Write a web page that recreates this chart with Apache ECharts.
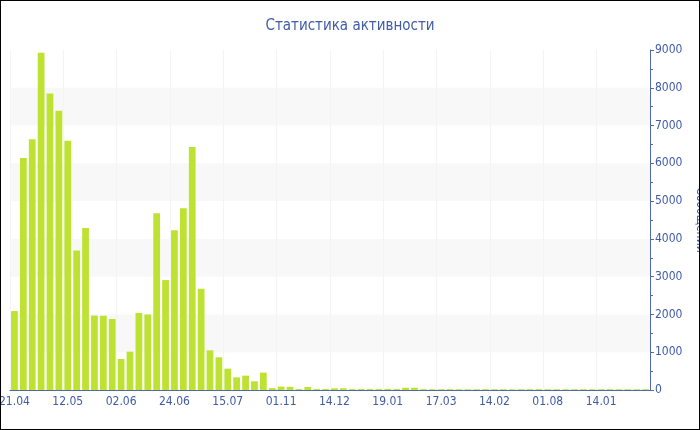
<!DOCTYPE html>
<html>
<head>
<meta charset="utf-8">
<script src="https://cdn.jsdelivr.net/npm/echarts@6/dist/echarts.min.js"></script>
<style>
html,body{margin:0;padding:0;background:#fff;}
#c{width:700px;height:430px;box-sizing:border-box;border:1px solid #000;}
</style>
</head>
<body>
<div id="c"></div>
<script>
const titleText = 'Статистика активности';
const yAxisName = 'Сообщений';
const categories = [
  '21.04','24.04','28.04','01.05','05.05','08.05',
  '12.05','15.05','19.05','22.05','26.05','29.05',
  '02.06','05.06','09.06','13.06','17.06','20.06',
  '24.06','27.06','01.07','04.07','08.07','11.07',
  '15.07','18.07','25.07','08.08','29.08','03.10',
  '01.11','08.11','15.11','22.11','29.11','06.12',
  '14.12','21.12','28.12','04.01','09.01','14.01',
  '19.01','26.01','02.02','16.02','03.03','10.03',
  '17.03','24.03','07.04','21.04','19.05','16.06',
  '14.02','14.03','18.04','12.05','09.06','07.07',
  '01.08','29.08','26.09','24.10','21.11','19.12',
  '14.01','11.02','11.03','08.04','06.05','03.06'
];
const messages = [
  2090, 6140, 6640, 8930, 7850, 7390,
  6600, 3690, 4290, 1970, 1965, 1880,
  820, 1015, 2040, 2000, 4680, 2910,
  4230, 4810, 6430, 2680, 1050, 865,
  565, 335, 380, 230, 460, 50,
  90, 85, 25, 80, 25, 25,
  45, 45, 25, 25, 25, 25,
  30, 25, 60, 60, 22, 20,
  20, 22, 20, 18, 20, 22,
  20, 20, 18, 20, 20, 22,
  20, 20, 18, 20, 20, 20,
  20, 22, 20, 20, 18, 20
];
const yTicks = { min: 0, max: 9000, interval: 1000 };

const blue = '#3f5ba9';
const axisBlue = '#5068ac';
const font = 'DejaVu Sans Condensed, DejaVu Sans';
const chart = echarts.init(document.getElementById('c'));
chart.setOption({
  animation: false,
  backgroundColor: '#fff',
  title: {
    text: titleText,
    left: 'center',
    top: 13,
    textStyle: { color: blue, fontSize: 15, fontWeight: 'normal', fontFamily: font }
  },
  grid: { left: 9, right: 49, top: 49, bottom: 39, containLabel: false, outerBoundsMode: 'none' },
  xAxis: {
    type: 'category',
    data: categories,
    axisLine: { lineStyle: { color: axisBlue, width: 1 } },
    axisTick: { alignWithLabel: true, interval: 5, length: 4, lineStyle: { color: '#888' } },
    axisLabel: { interval: 5, color: blue, fontSize: 12, margin: 6, fontFamily: font },
    splitLine: { show: true, interval: 5, lineStyle: { color: '#f4f4f4' } }
  },
  yAxis: {
    type: 'value',
    position: 'right',
    min: yTicks.min, max: yTicks.max, interval: yTicks.interval,
    name: yAxisName,
    nameLocation: 'middle',
    nameRotate: -90,
    nameGap: 44,
    nameMoveOverlap: false,
    nameTextStyle: { color: blue, fontSize: 12, fontFamily: font },
    axisLine: { show: true, lineStyle: { color: axisBlue } },
    axisTick: { show: true, length: 4, lineStyle: { color: axisBlue } },
    minorTick: { show: true, splitNumber: 2, length: 3, lineStyle: { color: axisBlue } },
    axisLabel: { color: blue, fontSize: 12, margin: 5, fontFamily: font, formatter: function (v) { return String(v); } },
    splitLine: { show: false },
    splitArea: { show: true, areaStyle: { color: ['rgba(255,255,255,0)', '#f8f8f8'] } }
  },
  series: [{
    type: 'bar',
    data: messages,
    barCategoryGap: '24%',
    itemStyle: { color: '#bde232' }
  }]
});
</script>
</body>
</html>
